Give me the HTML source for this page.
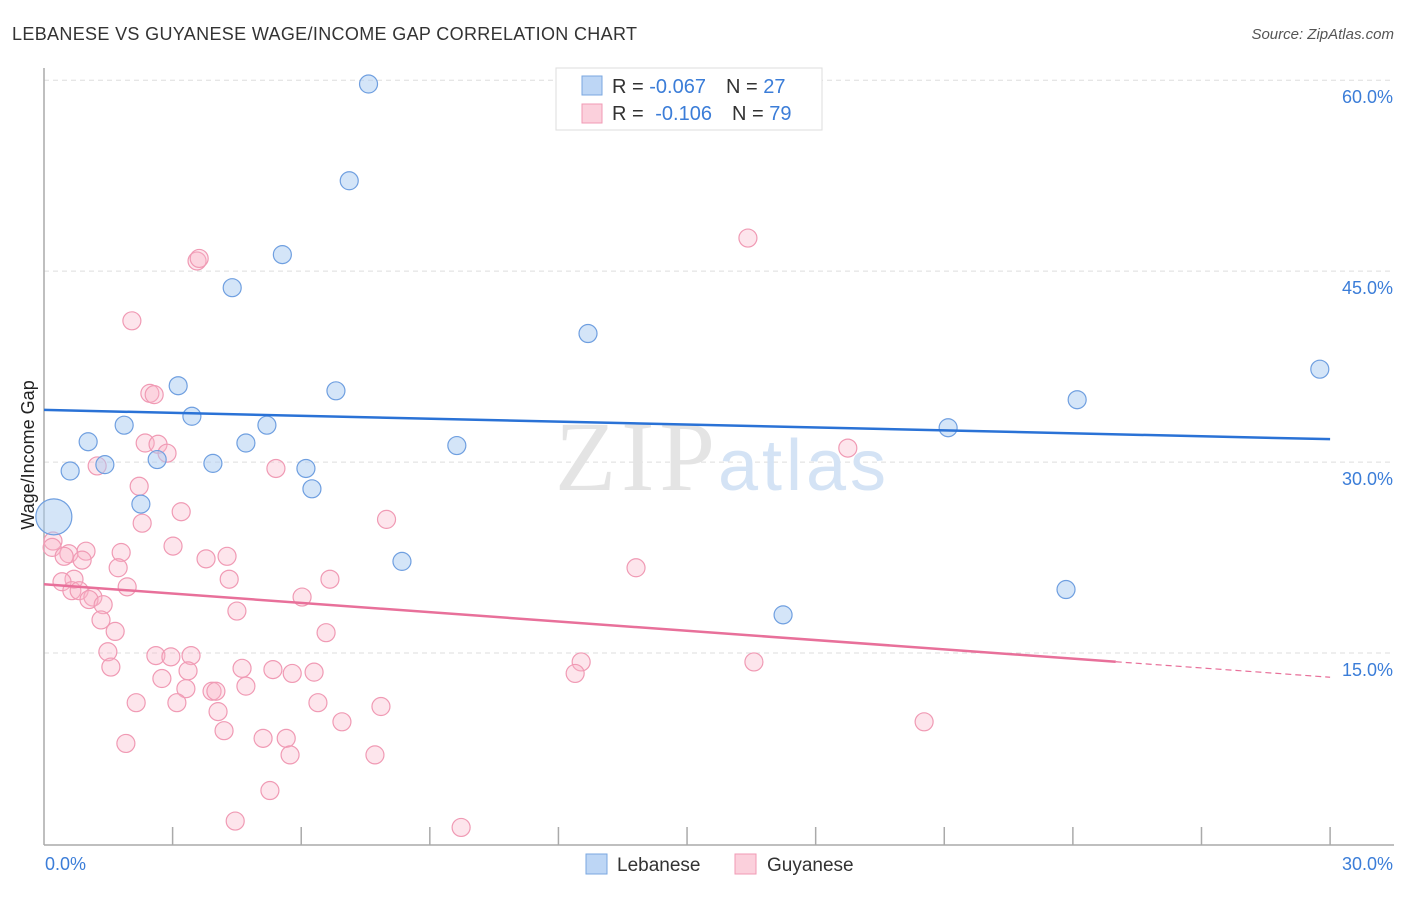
<!DOCTYPE html>
<html><head><meta charset="utf-8"><style>
body{margin:0;background:#fff;font-family:"Liberation Sans",sans-serif}
</style></head><body>
<svg width="1406" height="892" viewBox="0 0 1406 892" xmlns="http://www.w3.org/2000/svg">
<text x="12" y="40" font-size="18" fill="#333" textLength="625">LEBANESE VS GUYANESE WAGE/INCOME GAP CORRELATION CHART</text>
<text x="1394" y="39" font-size="15" fill="#555" font-style="italic" text-anchor="end">Source: ZipAtlas.com</text>
<g id="grid"></g>
<text x="555" y="490" font-size="100" font-family="Liberation Serif" fill="#e4e4e4" textLength="160">ZIP</text>
<text x="718" y="490" font-size="72" fill="#d4e3f5" textLength="168">atlas</text>
<line x1="44" y1="68" x2="44" y2="845" stroke="#aaa" stroke-width="1.5"/>
<line x1="44" y1="845" x2="1394" y2="845" stroke="#aaa" stroke-width="1.5"/>
<g id="xticks"></g>
<text transform="translate(34,455) rotate(-90)" font-size="18" fill="#222" text-anchor="middle">Wage/Income Gap</text>
<text x="45" y="870" font-size="18" fill="#3b7dd8">0.0%</text>
<text x="1393" y="870" font-size="18" fill="#3b7dd8" text-anchor="end">30.0%</text>
<g id="pts"></g>
<g id="lines"></g>
<g>
<rect x="556" y="68" width="266" height="62" fill="#fff" stroke="#ddd"/>
<rect x="582" y="76" width="20" height="19" fill="#bdd6f5" stroke="#7aa7e0"/>
<rect x="582" y="104" width="20" height="19" fill="#fbd0dc" stroke="#f09ab4"/>
<text x="612" y="93" font-size="20" fill="#333">R = <tspan fill="#3b7dd8">-0.067</tspan><tspan dx="20">N = </tspan><tspan fill="#3b7dd8">27</tspan></text>
<text x="612" y="120" font-size="20" fill="#333">R = <tspan dx="6" fill="#3b7dd8">-0.106</tspan><tspan dx="20">N = </tspan><tspan fill="#3b7dd8">79</tspan></text>
</g>
<g><rect x="586" y="854" width="21" height="20" fill="#bdd6f5" stroke="#7aa7e0"/><text x="617" y="871" font-size="19" fill="#333">Lebanese</text></g>
<g><rect x="735" y="854" width="21" height="20" fill="#fbd0dc" stroke="#f09ab4"/><text x="767" y="871" font-size="19" fill="#333">Guyanese</text></g>
</svg>
<script>
const yTicks=[15,30,45,60];
const xTicks=[3,6,9,12,15,18,21,24,27,30];
const lebX=[7.57,7.12,5.56,4.39,12.69,3.13,6.81,3.45,1.87,5.2,1.03,4.71,9.63,2.64,1.42,3.94,6.11,0.61,6.25,2.26,0.23,8.35,17.24,23.84,21.09,24.1,29.76];
const lebY=[59.7,52.1,46.3,43.7,40.1,36.0,35.6,33.6,32.9,32.9,31.6,31.5,31.3,30.2,29.8,29.9,29.5,29.3,27.9,26.7,25.7,22.2,18.0,19.99,32.7,34.9,37.3];
const lebR=[9,9,9,9,9,9,9,9,9,9,9,9,9,9,9,9,9,9,9,9,18,9,9,9,9,9,9];
const guyX=[16.42,3.57,3.62,2.05,2.47,2.57,18.75,2.36,2.66,2.87,1.24,5.41,2.22,3.2,7.99,2.29,0.21,0.19,0.98,0.58,1.8,4.27,3.01,3.78,0.47,0.89,1.73,13.81,0.7,0.42,4.32,6.67,1.94,0.65,0.82,1.14,6.02,1.05,1.38,4.5,1.33,1.66,6.58,1.49,2.61,2.96,3.43,1.56,3.36,4.62,5.34,5.79,6.3,12.53,16.56,12.39,2.75,3.31,3.92,4.01,4.71,2.15,3.1,6.39,4.06,7.86,6.95,20.53,4.2,1.91,5.11,5.65,5.74,7.72,5.27,4.46,9.73];
const guyY=[47.6,45.8,46.0,41.1,35.4,35.3,31.1,31.5,31.4,30.7,29.7,29.5,28.1,26.1,25.5,25.2,23.8,23.3,23.0,22.8,22.9,22.6,23.4,22.4,22.6,22.3,21.7,21.7,20.8,20.6,20.8,20.8,20.2,19.9,19.9,19.4,19.4,19.2,18.8,18.3,17.6,16.7,16.6,15.1,14.8,14.7,14.8,13.9,13.6,13.8,13.7,13.4,13.5,14.3,14.3,13.4,13.0,12.2,12.0,12.0,12.4,11.1,11.1,11.1,10.4,10.8,9.6,9.6,8.9,7.9,8.3,8.3,7.0,7.0,4.2,1.8,1.3];
const lebTrend=[34.1,31.8];
const guyTrend=[20.4,13.1];
const guySolidEnd=25;
const NS="http://www.w3.org/2000/svg";
const sx=v=>44+v*42.87, sy=v=>844-v*12.73;
function mk(t,a,p){const e=document.createElementNS(NS,t);for(const k in a)e.setAttribute(k,a[k]);p.appendChild(e);return e;}
const grid=document.getElementById('grid');
yTicks.forEach(t=>{
 const l=mk('line',{x1:44,x2:1394,y1:sy(t),y2:sy(t),stroke:'#ddd','stroke-dasharray':'5,4'},grid);
 
 
 const tx=mk('text',{x:1393,y:sy(t)+23,'font-size':18,fill:'#3b7dd8','text-anchor':'end'},grid);
 tx.textContent=t.toFixed(1)+'%';
 
 
});
const xt=document.getElementById('xticks');
xTicks.forEach(t=>{
 const l=mk('line',{x1:sx(t),x2:sx(t),y1:827,y2:845,stroke:'#aaa','stroke-width':1.5},xt);
 
 
});
const pts=document.getElementById('pts');
guyX.forEach((x,i)=>{
 const c=mk('circle',{cx:sx(x),cy:sy(guyY[i]),r:9,fill:'rgba(248,180,200,0.35)',stroke:'#f09ab4','stroke-width':1.2},pts);
 
 
});
lebX.forEach((x,i)=>{
 const c=mk('circle',{cx:sx(x),cy:sy(lebY[i]),r:lebR[i],fill:'rgba(170,203,242,0.5)',stroke:'#6f9fe0','stroke-width':1.2},pts);
 
 
});
const ln=document.getElementById('lines');
const bl=mk('line',{x1:sx(0),y1:sy(lebTrend[0]),x2:sx(30),y2:sy(lebTrend[1]),stroke:'#2a72d6','stroke-width':2.5},ln);


const gAt=x=>guyTrend[0]+(guyTrend[1]-guyTrend[0])*x/30;
const pl=mk('line',{x1:sx(0),y1:sy(gAt(0)),x2:sx(guySolidEnd),y2:sy(gAt(guySolidEnd)),stroke:'#e8709a','stroke-width':2.5},ln);


const pd=mk('line',{x1:sx(guySolidEnd),y1:sy(gAt(guySolidEnd)),x2:sx(30),y2:sy(gAt(30)),stroke:'#e8709a','stroke-width':1.2,'stroke-dasharray':'6,4'},ln);


</script>
</body></html>
